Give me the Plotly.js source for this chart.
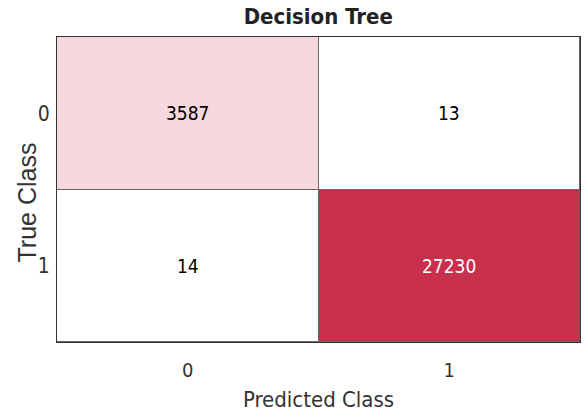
<!DOCTYPE html>
<html><head><meta charset="utf-8">
<script src="https://cdn.plot.ly/plotly-3.0.1.min.js"></script>
<style>html,body{margin:0;padding:0;background:#fff;}</style>
</head><body>
<div id="chart" style="width:584px;height:416px;"></div>
<script>
const predictedLabels = ['0', '1'];
const trueLabels = ['0', '1'];
const row0 = [3587, 13];
const row1 = [14, 27230];
const chartTitle = 'Decision Tree';
const xTitle = 'Predicted Class';
const yTitle = 'True Class';

const narrow = '"Liberation Sans Narrow", "DejaVu Sans Condensed", "Arial Narrow", sans-serif';
const z = [row0, row1];
const zmax = Math.max(...row0, ...row1);
const trace = {
  type: 'heatmap',
  x: predictedLabels,
  y: trueLabels,
  z: z,
  colorscale: [[0, '#ffffff'], [0.132, '#f6d9de'], [1, '#c9304c']],
  showscale: false,
  xgap: 1, ygap: 1,
  hoverinfo: 'skip'
};
const annotations = [];
z.forEach((row, i) => row.forEach((v, j) => {
  annotations.push({
    x: predictedLabels[j], y: trueLabels[i], xref: 'x', yref: 'y',
    text: String(v), showarrow: false,
    font: {family: narrow, size: 19, color: v > zmax / 2 ? '#ffffff' : '#000000'}
  });
}));
annotations.push({
  text: yTitle, xref: 'paper', yref: 'paper', x: 0, y: 0.5,
  xanchor: 'center', yanchor: 'middle', xshift: -31, yshift: -13, textangle: -90,
  showarrow: false,
  font: {family: '"Liberation Sans", Arial, sans-serif', size: 25, color: '#333'}
});
const layout = {
  width: 584, height: 416,
  margin: {l: 57, r: 4, t: 37, b: 74},
  paper_bgcolor: '#ffffff',
  plot_bgcolor: '#666666',
  annotations: annotations,
  title: {text: '<b>' + chartTitle + '</b>', font: {family: narrow, size: 22, color: '#222'}, x: 0.545, xanchor: 'center', y: 0.98, yanchor: 'top'},
  xaxis: {
    type: 'category',
    title: {text: xTitle, font: {family: narrow, size: 22, color: '#333'}, standoff: 10},
    tickfont: {family: narrow, size: 20, color: '#333'},
    ticks: 'outside', ticklen: 10, tickcolor: 'rgba(0,0,0,0)',
    showline: true, linecolor: '#333', linewidth: 1, mirror: true,
    showgrid: false, zeroline: false
  },
  yaxis: {
    type: 'category',
    autorange: 'reversed',
    tickfont: {family: narrow, size: 21, color: '#333'},
    ticks: 'outside', ticklen: 2, tickcolor: 'rgba(0,0,0,0)',
    showline: true, linecolor: '#333', linewidth: 1, mirror: true,
    showgrid: false, zeroline: false
  }
};
Plotly.newPlot('chart', [trace], layout, {displayModeBar: false, staticPlot: true});
</script>
</body></html>
